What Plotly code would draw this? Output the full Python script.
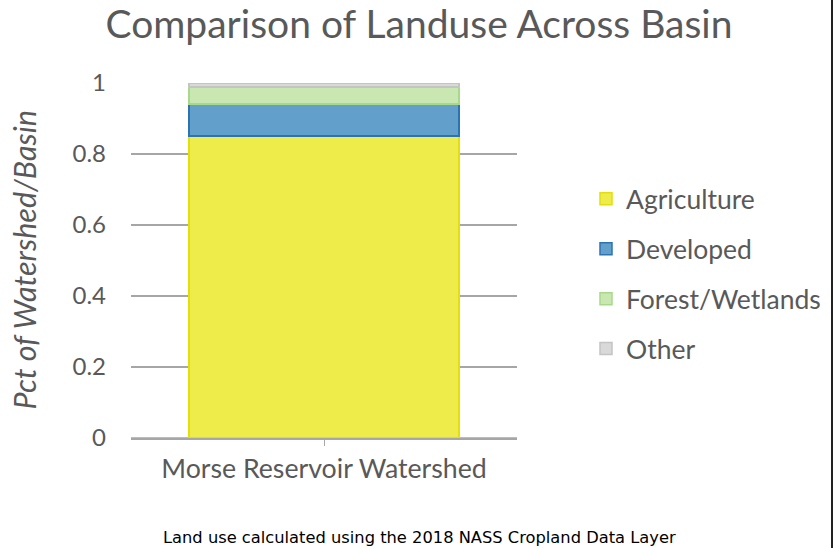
import plotly.graph_objects as go

categories = ["Morse Reservoir Watershed"]
series_names = ["Agriculture", "Developed", "Forest/Wetlands", "Other"]
agriculture = [0.851]
developed = [0.090]
forest_wetlands = [0.048]
other = [0.011]
y_ticks = [0, 0.2, 0.4, 0.6, 0.8, 1]
y_tick_labels = ["0", "0.2", "0.4", "0.6", "0.8", "1"]

values = [agriculture, developed, forest_wetlands, other]
fills = ["#EDEC4B", "#629FCB", "#C8E7B1", "#D9D9D9"]
borders = ["#E4DE0A", "#2B74B3", "#A8D98A", "#C4C4C4"]

FONT = "Lato"
GRAY = "#595959"

fig = go.Figure()
for name, vals, fc, bc in zip(series_names, values, fills, borders):
    fig.add_trace(go.Bar(
        x=categories, y=vals, name=name,
        marker=dict(color=fc, line=dict(color=bc, width=1.5)),
        legendgroup=name,
    ))

fig.update_layout(
    width=838, height=548,
    barmode="stack", bargap=0.30,
    paper_bgcolor="white", plot_bgcolor="white",
    margin=dict(l=131, r=321, t=83, b=110, autoexpand=False),
    title=dict(text="Comparison of Landuse Across Basin", x=0.5, xref="container",
               xanchor="center", y=1 - 24 / 548, yref="container", yanchor="middle",
               font=dict(family=FONT, size=39, color=GRAY)),
    font=dict(family=FONT, color=GRAY),
    showlegend=True,
    legend=dict(x=(586 - 131) / 386, xanchor="left", y=(438 - 175) / 355, yanchor="top",
                traceorder="grouped", tracegroupgap=12.5,
                font=dict(family=FONT, size=26.5, color=GRAY),
                itemwidth=30, bgcolor="rgba(0,0,0,0)"),
    xaxis=dict(showline=True, linecolor="#A6A6A6", linewidth=1.5,
               ticks="outside", ticklen=6, tickcolor="#A6A6A6",
               tickfont=dict(family=FONT, size=26.7, color=GRAY),
               showgrid=False),
    yaxis=dict(range=[0, 1], tickvals=y_ticks, ticktext=y_tick_labels,
               showgrid=True, gridcolor="#A6A6A6", gridwidth=1.5,
               zeroline=False, showline=False,
               tickfont=dict(family=FONT, size=24, color=GRAY),
               ticklabelstandoff=24),
    annotations=[
        dict(text="<i>Pct of Watershed/Basin</i>", textangle=-90,
             xref="paper", yref="paper", x=(23 - 131) / 386, y=0.5,
             xanchor="center", yanchor="middle", showarrow=False,
             font=dict(family=FONT, size=30.5, color=GRAY)),
        dict(text="Land use calculated using the 2018 NASS Cropland Data Layer",
             xref="paper", yref="paper", x=(419 - 131) / 386, y=(438 - 537) / 355,
             xanchor="center", yanchor="middle", showarrow=False,
             font=dict(family="DejaVu Sans", size=16.3, color="#000000")),
    ],
    shapes=[dict(type="line", xref="paper", yref="paper",
                 x0=(832 - 131) / 386, x1=(832 - 131) / 386,
                 y0=(438 - 548) / 355, y1=(438 - 0) / 355,
                 line=dict(color="#222222", width=2))],
)
fig.add_shape(type="line", xref="paper", yref="paper", x0=0, x1=1, y0=0, y1=0,
              line=dict(color="#A6A6A6", width=1.5), layer="below")

fig.write_html("out.html", config={"displayModeBar": False},
               post_script="document.body.style.margin='0px';document.body.style.overflow='hidden';")
